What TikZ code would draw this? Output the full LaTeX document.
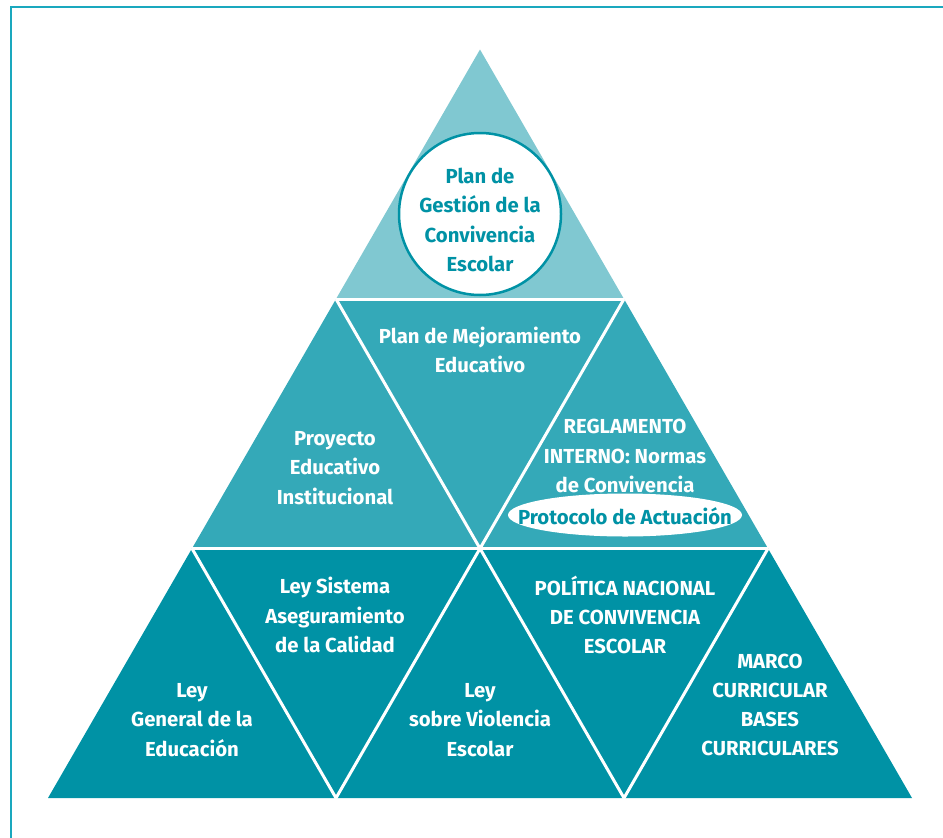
\documentclass[tikz,border=0pt]{standalone}
\usepackage{fontspec}
\setmainfont{Fira Sans}
\usepackage{tikz}

\definecolor{frameteal}{HTML}{1AA8BE}
\definecolor{topteal}{HTML}{80C8D1}
\definecolor{midteal}{HTML}{34A9B8}
\definecolor{lowteal}{HTML}{0092A5}

\begin{document}
\begin{tikzpicture}[x=1bp,y=-1bp,
	lbl/.style={align=center, text=white, inner sep=0pt, font=\bfseries\fontsize{20.3bp}{29.3bp}\selectfont},
	gap/.style={draw=white, line width=3bp}
	]
	\useasboundingbox (0,0) rectangle (943,838);
	\draw[frameteal, line width=2.5bp] (11,850) -- (11,7) -- (960,7);	%frame, cut at right and bottom
	
	%corners of the pyramid
	\coordinate (apex) at (480,49.5);
	\coordinate (t1) at (336,299);   \coordinate (t2) at (624,299);
	\coordinate (m0) at (192,548.5); \coordinate (m1) at (480,548.5); \coordinate (m2) at (768,548.5);
	\coordinate (b0) at (48,798);    \coordinate (b1) at (336,798);
	\coordinate (b2) at (624,798);   \coordinate (b3) at (912,798);
	
	\fill[topteal] (apex) -- (t1) -- (t2) -- cycle;
	\fill[midteal] (t1) -- (t2) -- (m2) -- (m0) -- cycle;
	\fill[lowteal] (m0) -- (m2) -- (b3) -- (b0) -- cycle;
	
	%white gaps between the triangles
	\draw[gap] (t1) -- (t2);
	\draw[gap] (m0) -- (m2);
	\draw[gap] (t1) -- (m1) -- (t2);
	\draw[gap] (m0) -- (b1) -- (m1) -- (b2) -- (m2);
	
	%top
	\node[circle, draw=lowteal, fill=white, line width=2.5bp, minimum size=162bp] (circ) at (480,214) {};
	\node[lbl, text=lowteal] (gestion) at (480,220) {Plan de\\Gesti\'on de la\\Convivencia\\Escolar};
	
	%middle row
	\node[lbl] (mejora) at (480,350) {Plan de Mejoramiento\\Educativo};
	\node[lbl] (proyecto) at (335,468) {Proyecto\\Educativo\\Institucional};
	\node[lbl] (reglamento) at (625,456) {REGLAMENTO\\INTERNO: Normas\\de Convivencia};
	\fill[white] (625,515) ellipse [x radius=117, y radius=21.5];	%white oval behind the protocol
	\node[lbl, text=lowteal] (protocolo) at (625,516) {Protocolo de Actuaci\'on};
	
	%bottom row
	\node[lbl] (general) at (192,720) {Ley\\General de la\\Educaci\'on};
	\node[lbl] (sistema) at (335,615) {Ley Sistema\\Aseguramiento\\de la Calidad};
	\node[lbl] (violencia) at (480,720) {Ley\\sobre Violencia\\Escolar};
	\node[lbl] (politica) at (625,615) {POL\'ITICA NACIONAL\\DE CONVIVENCIA\\ESCOLAR};
	\node[lbl] (marco) at (770,705) {MARCO\\CURRICULAR\\BASES\\CURRICULARES};
\end{tikzpicture}
\end{document}
